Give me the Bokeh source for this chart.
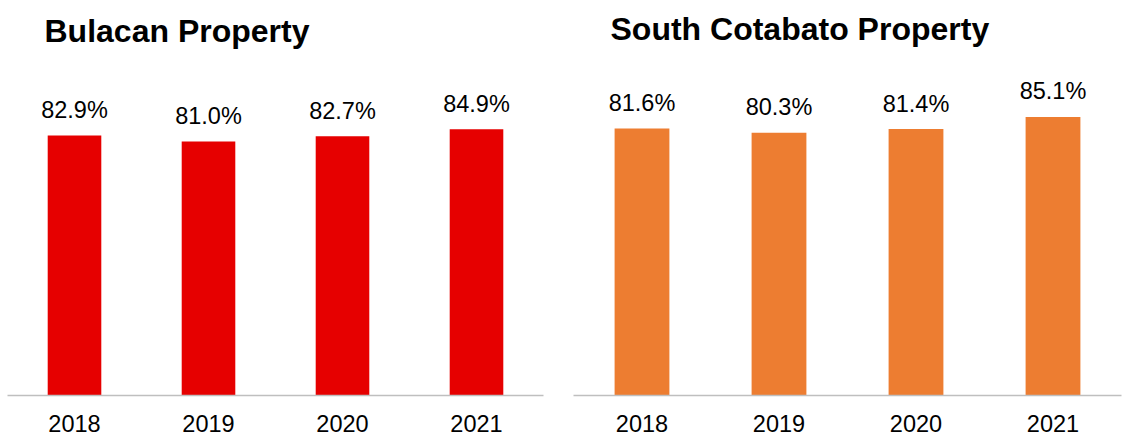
from bokeh.plotting import figure
from bokeh.models import FactorRange, Range1d, Label, ColumnDataSource
from bokeh.layouts import row
from bokeh.core.properties import value
from bokeh.embed import file_html
from bokeh.resources import INLINE

years = ["2018", "2019", "2020", "2021"]
bulacan = [82.9, 81.0, 82.7, 84.9]
cotabato = [81.6, 80.3, 81.4, 85.1]
titles = ["Bulacan Property", "South Cotabato Property"]
colors = ["#E60000", "#ED7D31"]

FONT = "Liberation Sans"


def panel(title, vals, color, width, b_left, b_right, b_bottom, y_end):
    p = figure(
        width=width, height=447,
        x_range=FactorRange(*years, range_padding=0),
        y_range=Range1d(0, y_end),
        output_backend="svg", toolbar_location=None,
        y_axis_location=None,
        min_border_left=b_left, min_border_right=b_right,
        min_border_top=0, min_border_bottom=b_bottom,
    )
    p.outline_line_color = None
    p.xgrid.grid_line_color = None
    p.ygrid.grid_line_color = None
    p.background_fill_color = "white"
    p.border_fill_color = "white"

    src = ColumnDataSource(dict(x=years, top=vals,
                                lab=[f"{v:.1f}%" for v in vals]))
    p.vbar(x="x", top="top", bottom=0, width=0.4, source=src,
           fill_color=color, line_color=None)
    p.text(x="x", y="top", text="lab", source=src,
           text_align="center", text_baseline="alphabetic", y_offset=-25.5,
           text_font=value(FONT), text_font_size="23.5px", text_color="#000000")

    ax = p.xaxis[0]
    ax.axis_line_color = "#BFBFBF"
    ax.axis_line_width = 1.5
    ax.major_tick_line_color = None
    ax.minor_tick_line_color = None
    ax.major_tick_out = 0
    ax.major_tick_in = 0
    ax.major_label_standoff = 19
    ax.major_label_text_font = FONT
    ax.major_label_text_font_size = "23.5px"
    ax.major_label_text_color = "#000000"

    frame_h = 447 - b_bottom
    p.add_layout(Label(x=37, y=frame_h - 30.5, x_units="screen", y_units="screen",
                       text=title, text_font=FONT, text_font_size="32px",
                       text_font_style="bold", text_color="#000000",
                       text_baseline="alphabetic", text_align="left"))
    return p


p1 = panel(titles[0], bulacan, colors[0], 560, 7, 17, 52, 395 / 3.135)
p2 = panel(titles[1], cotabato, colors[1], 567, 13, 6, 50, 397 / 3.29)

layout = row(p1, p2)
open("out.html", "w").write(file_html(layout, INLINE))
